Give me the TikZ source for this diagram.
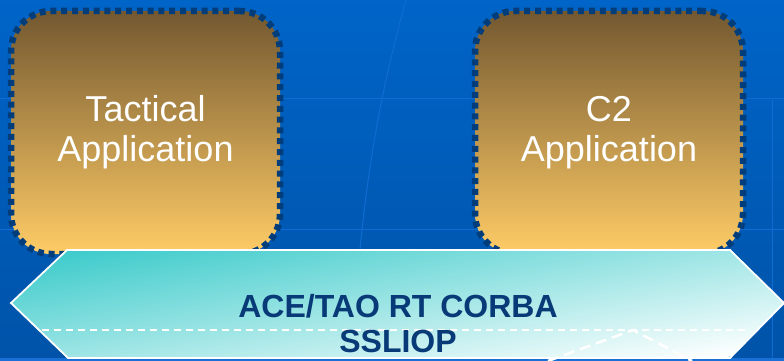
\documentclass[tikz,border=0pt]{standalone}
\usepackage{fontspec}
\setmainfont{Liberation Sans}

\definecolor{bgtop}{HTML}{0064C8}
\definecolor{bgbot}{HTML}{0053A8}
\definecolor{bgline}{HTML}{0F6CD2}
\definecolor{bgstrip}{HTML}{1870D4}
\definecolor{dotblue}{HTML}{003D7A}
\definecolor{boxtop}{HTML}{735830}
\definecolor{boxbot}{HTML}{FFCC66}
\definecolor{hexcyan}{HTML}{3ECBCB}
\definecolor{hexmid}{HTML}{B0E4E4}
\definecolor{hextext}{HTML}{083A78}

\begin{document}
\begin{tikzpicture}[x=1pt,y=-1pt,
  appbox/.style={draw=dotblue,line width=6.5pt,dash pattern=on 6pt off 4.8pt,
    rounded corners=40pt,top color=boxtop,bottom color=boxbot,
    minimum height=243pt,inner sep=0pt,text=white,align=center,
    font=\fontsize{36}{40}\selectfont},
  mwtext/.style={text=hextext,align=center,inner sep=0pt,
    font=\bfseries\fontsize{32}{35}\selectfont},
  hexdash/.style={white,line width=2pt,dash pattern=on 8pt off 5pt}]
  % background
  \useasboundingbox (0,0) rectangle (784,361);
  \fill[top color=bgtop,bottom color=bgbot] (0,0) rectangle (784,361);
  \draw[bgline,line width=1pt]
    (0,98) -- (784,98)
    (0,229) -- (784,229)
    (772,100) -- (772,361);
  \draw[bgline,line width=1pt] (406,0) .. controls (378,100) and (360,200) .. (352,361);
  \fill[bgstrip] (0,358) rectangle (784,361);

  % applications
  \node[appbox,minimum width=269pt] (tac) at (145.5,132.5) {Tactical\\Application};
  \node[appbox,minimum width=268pt] (ctwo) at (609,132.5) {C2\\Application};

  % middleware
  \coordinate (hw) at (11,303);
  \coordinate (hnw) at (67,250);
  \coordinate (hne) at (730,250);
  \coordinate (he) at (784,303);
  \coordinate (hse) at (730,358);
  \coordinate (hsw) at (68,358);
  \begin{scope}
    \clip (hw) -- (hnw) -- (hne) -- (he) -- (hse) -- (hsw) -- cycle;
    \shade[top color=hexcyan,middle color=hexmid,bottom color=white,
      transform canvas={rotate around={9:(397,304)}}]
      (-30,200) rectangle (824,408);
  \end{scope}
  \draw[white,line width=1.8pt,line join=miter]
    (hw) -- (hnw) -- (hne) -- (he) -- (hse) -- (hsw) -- cycle;
  \coordinate (dl) at (42,330);
  \coordinate (dr) at (750,330);
  \draw[hexdash,dash pattern=on 7pt off 5pt] (dl) -- (dr);
  \coordinate (ta) at (548,361);
  \coordinate (tb) at (633,330);
  \coordinate (tc) at (692,361);
  \draw[hexdash,line width=2.5pt,dash pattern=on 11pt off 6pt] (ta) -- (tb) -- (tc);
  \node[mwtext] (mw) at (398,324) {ACE/TAO RT CORBA\\SSLIOP};
\end{tikzpicture}
\end{document}
